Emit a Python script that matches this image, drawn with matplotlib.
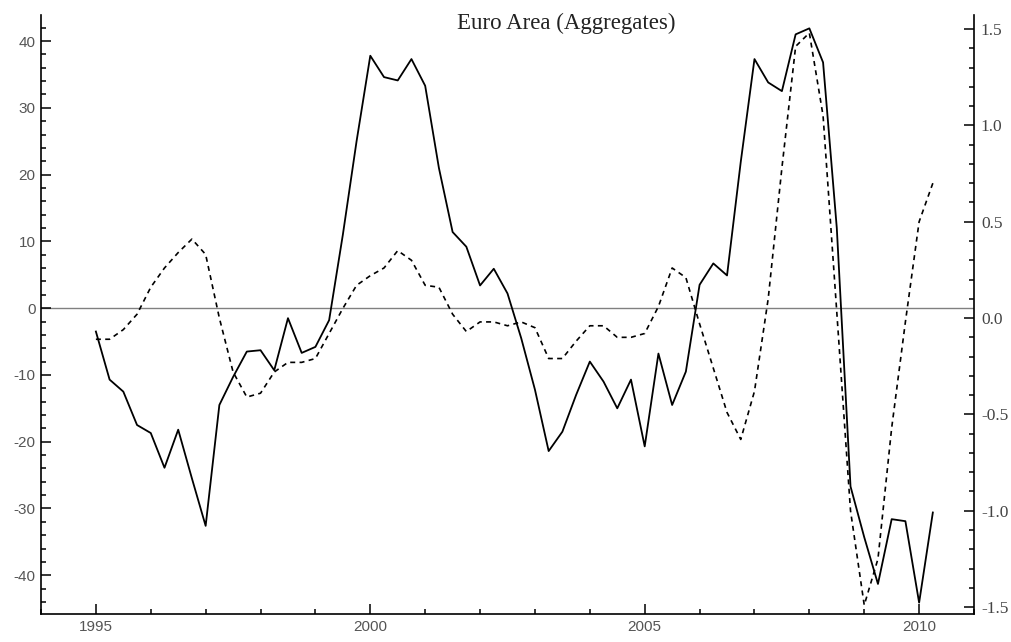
import numpy as np
from matplotlib import pyplot as plt
from matplotlib.ticker import MultipleLocator, FormatStrFormatter

plt.rcParams['axes.unicode_minus'] = False

# quarterly observations, 1995Q1 .. 2010Q2
t = 1995 + 0.25 * np.arange(62)
aggr = [-3.5, -10.7, -12.5, -17.5, -18.7, -23.9, -18.2, -25.5,
        -32.6, -14.5, -10.3, -6.5, -6.3, -9.3, -1.5, -6.7,
        -5.8, -1.8, 11.0, 25.0, 37.8, 34.6, 34.1, 37.3,
        33.3, 21.0, 11.4, 9.2, 3.4, 5.9, 2.2, -4.5,
        -12.2, -21.4, -18.5, -13.0, -8.0, -11.0, -15.0, -10.7,
        -20.7, -6.8, -14.5, -9.5, 3.5, 6.7, 4.9, 21.9,
        37.3, 33.8, 32.5, 41.0, 41.9, 36.8, 12.0, -26.7,
        -34.3, -41.3, -31.6, -31.9, -44.1, -30.6]
index = [-0.11, -0.11, -0.06, 0.02, 0.16, 0.26, 0.34, 0.41,
         0.33, 0.00, -0.28, -0.41, -0.39, -0.28, -0.23, -0.23,
         -0.21, -0.08, 0.05, 0.17, 0.22, 0.26, 0.35, 0.30,
         0.17, 0.16, 0.02, -0.07, -0.02, -0.02, -0.04, -0.02,
         -0.05, -0.21, -0.21, -0.12, -0.04, -0.04, -0.10, -0.10,
         -0.08, 0.06, 0.26, 0.21, -0.03, -0.26, -0.49, -0.63,
         -0.38, 0.10, 0.78, 1.41, 1.48, 1.05, 0.03, -1.00,
         -1.49, -1.25, -0.57, -0.02, 0.50, 0.70]

fig = plt.figure(figsize=(10.12, 6.42), dpi=100)
ax = fig.add_axes([41/1012, 28/642, 933/1012, 599/642])
ax2 = ax.twinx()

ax.axhline(0, color='#808080', lw=1.0, zorder=1)
ax.plot(t, aggr, c='k', lw=1.3)
ax2.plot(t, index, c='k', lw=1.2, dashes=[3.0, 2.6])

ax.set_xlim(1994, 2011)
ax.set_ylim(-45.8, 43.9)
ax2.set_ylim(-1.536, 1.573)

for a in (ax, ax2):
    a.spines['top'].set_visible(False)
    for s in a.spines.values():
        s.set_linewidth(1.2)
ax.spines['right'].set_visible(False)
ax2.spines['left'].set_visible(False)
ax2.spines['bottom'].set_visible(False)

ax.xaxis.set_major_locator(MultipleLocator(5))
ax.xaxis.set_minor_locator(MultipleLocator(1))
ax.yaxis.set_major_locator(MultipleLocator(10))
ax.yaxis.set_minor_locator(MultipleLocator(2))
ax2.yaxis.set_major_locator(MultipleLocator(0.5))
ax2.yaxis.set_minor_locator(MultipleLocator(0.1))
ax2.yaxis.set_major_formatter(FormatStrFormatter('%.1f'))

ax.tick_params(which='both', direction='in', width=1.1, colors='k',
               labelcolor='#555555', labelsize=11, pad=4)
ax.tick_params(which='major', length=7)
ax.tick_params(which='minor', length=3.5)
ax2.tick_params(which='both', direction='in', width=1.1, labelcolor='#444444', pad=5)
ax2.tick_params(which='major', length=7)
ax2.tick_params(which='minor', length=3.5)
for lab in ax.get_xticklabels() + ax.get_yticklabels():
    lab.set_family('Liberation Sans')
for lab in ax2.get_yticklabels():
    lab.set_family('Liberation Serif')
    lab.set_fontsize(12.5)

fig.text(0.56, 0.964, 'Euro Area (Aggregates)', ha='center', va='center',
         family='Liberation Serif', fontsize=16.5, color='#222222')

fig.savefig('out.png', dpi=100)
